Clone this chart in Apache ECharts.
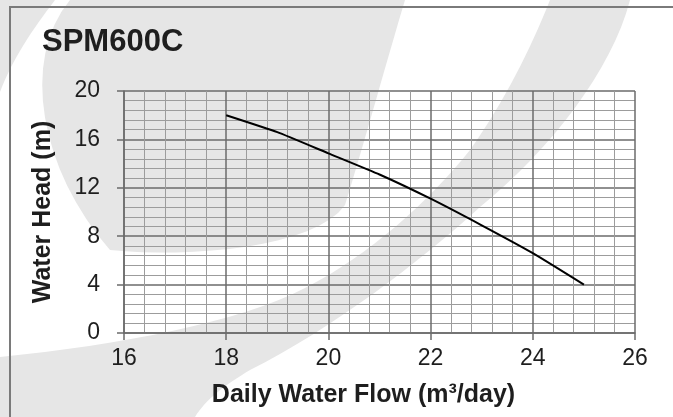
<!DOCTYPE html>
<html>
<head>
<meta charset="utf-8">
<title>SPM600C</title>
<script src="https://cdn.jsdelivr.net/npm/echarts@6/dist/echarts.min.js"></script>
<style>
  html, body { margin: 0; padding: 0; background: #ffffff; }
  #chart { width: 673px; height: 417px; }
</style>
</head>
<body>
<div id="chart"></div>
<script>
// --- data ---
const flow = [18, 19, 20, 21, 22, 23, 24, 25];
const head = [18, 16.6, 14.85, 13.1, 11.1, 8.9, 6.6, 4];
const xTicks = [16, 18, 20, 22, 24, 26];
const yTicks = [0, 4, 8, 12, 16, 20];

const font = "'Liberation Sans', Arial, sans-serif";
const majorColor = "#6b6b6b";
const minorColor = "#9c9c9c";
const markColor = "#e6e6e6"; // faint logo behind the chart

const chart = echarts.init(document.getElementById("chart"));

// turn "M x y L x y C x1 y1 x2 y2 x y ..." into polygon points
function pathPoints(d) {
  const t = d.trim().split(/\s+/);
  const pts = [];
  let i = 0, cx = 0, cy = 0;
  while (i < t.length) {
    const cmd = t[i++];
    if (cmd === "M" || cmd === "L") {
      cx = +t[i++]; cy = +t[i++];
      pts.push([cx, cy]);
    } else if (cmd === "C") {
      const a = t.slice(i, i + 6).map(Number);
      i += 6;
      for (let s = 1; s <= 16; s++) {
        const u = s / 16, v = 1 - u;
        pts.push([
          v * v * v * cx + 3 * v * v * u * a[0] + 3 * v * u * u * a[2] + u * u * u * a[4],
          v * v * v * cy + 3 * v * v * u * a[1] + 3 * v * u * u * a[3] + u * u * u * a[5],
        ]);
      }
      cx = a[4]; cy = a[5];
    }
  }
  return pts;
}

// logo swooshes in the background (decoration only)
const logo = [
  "M 0 0 L 55 0 C 32 30 12 60 0 92 Z",
  "M 70 0 C 20 60 40 170 110 250 C 190 258 315 248 345 205 C 365 140 387 60 405 0 Z",
  "M 550 0 L 630 0 C 612 70 550 150 480 207 C 420 262 330 330 250 370 C 225 385 205 400 195 417 " +
    "L 0 417 L 0 357 C 120 345 240 322 305 288 C 370 255 430 200 470 150 C 505 100 530 50 550 0 Z",
].map((d) => ({
  type: "polygon",
  z: -100,
  silent: true,
  shape: { points: pathPoints(d) },
  style: { fill: markColor },
}));

chart.setOption({
  animation: false,
  backgroundColor: "#ffffff",
  title: {
    text: "SPM600C",
    left: 37,
    top: 22,
    textStyle: { fontFamily: font, fontSize: 31, fontWeight: "bold", color: "#1e1e1e" },
  },
  graphic: logo.concat([
    // frame round the chart
    {
      type: "rect",
      z: 100,
      shape: { x: 10, y: 7, width: 700, height: 450 },
      style: { fill: "none", stroke: "#7a7a7a", lineWidth: 2 },
    },
  ]),
  grid: { left: 124, top: 91, width: 511, height: 242 },
  xAxis: {
    type: "value",
    min: xTicks[0],
    max: xTicks[xTicks.length - 1],
    interval: 2,
    name: "Daily Water Flow (m³/day)",
    nameLocation: "middle",
    nameGap: 50,
    nameTextStyle: { fontFamily: font, fontSize: 25, fontWeight: "bold", color: "#1e1e1e", padding: [0, 32, 0, 0] },
    axisLine: { lineStyle: { color: majorColor, width: 1.5 } },
    axisTick: { show: true, length: 7, lineStyle: { color: majorColor, width: 1.5 } },
    axisLabel: { fontFamily: font, fontSize: 23, color: "#1e1e1e", margin: 14 },
    splitLine: { show: true, lineStyle: { color: majorColor, width: 1.5 } },
    minorTick: { show: false, splitNumber: 5 },
    minorSplitLine: { show: true, lineStyle: { color: minorColor, width: 1 } },
  },
  yAxis: {
    type: "value",
    min: yTicks[0],
    max: yTicks[yTicks.length - 1],
    interval: 4,
    name: "Water Head (m)",
    nameLocation: "middle",
    nameGap: 68,
    nameTextStyle: { fontFamily: font, fontSize: 25, fontWeight: "bold", color: "#1e1e1e" },
    axisLine: { show: true, lineStyle: { color: majorColor, width: 1.5 } },
    axisTick: { show: true, length: 7, lineStyle: { color: majorColor, width: 1.5 } },
    axisLabel: { fontFamily: font, fontSize: 23, color: "#1e1e1e", margin: 24 },
    splitLine: { show: true, lineStyle: { color: majorColor, width: 1.5 } },
    minorTick: { show: false, splitNumber: 5 },
    minorSplitLine: { show: true, lineStyle: { color: minorColor, width: 1 } },
  },
  series: [
    {
      name: "SPM600C",
      type: "line",
      data: flow.map((f, i) => [f, head[i]]),
      smooth: 0.15,
      symbol: "none",
      lineStyle: { color: "#000000", width: 2 },
      z: 5,
    },
  ],
});
</script>
</body>
</html>
